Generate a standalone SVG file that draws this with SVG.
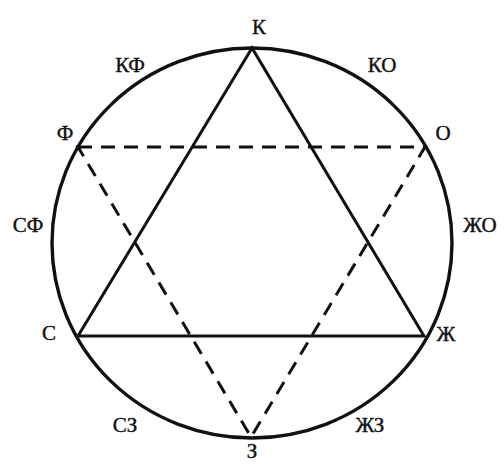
<svg xmlns="http://www.w3.org/2000/svg" width="504" height="464" viewBox="0 0 504 464">
<style>
.lbl{font-family:"Liberation Serif","DejaVu Serif",serif;font-size:21px;fill:#111;stroke:#111;stroke-width:0.4;text-anchor:middle;dominant-baseline:central}
.solid{fill:none;stroke:#111;stroke-width:3;stroke-linejoin:miter}
.dash{fill:none;stroke:#111;stroke-width:3;stroke-dasharray:14 9}
</style>
<rect width="504" height="464" fill="#fff"/>
<g id="circle"><ellipse cx="252" cy="243" rx="200" ry="195" fill="none" stroke="#111" stroke-width="3.4"/></g>
<g id="connectors">
<polygon class="solid" points="252,48 78,336 424,336"/>
<polygon class="dash" points="78,147 425,147 251,437"/>
</g>
<g id="labels">
<g id="n-K"><text class="lbl" x="259" y="27">К</text></g>
<g id="n-KF"><text class="lbl" x="130" y="65">КФ</text></g>
<g id="n-KO"><text class="lbl" x="382" y="65">КО</text></g>
<g id="n-F"><text class="lbl" x="65" y="133">Ф</text></g>
<g id="n-O"><text class="lbl" x="443" y="133">О</text></g>
<g id="n-SF"><text class="lbl" x="28" y="225">СФ</text></g>
<g id="n-ZhO"><text class="lbl" x="480" y="225">ЖО</text></g>
<g id="n-S"><text class="lbl" x="49" y="333">С</text></g>
<g id="n-Zh"><text class="lbl" x="446" y="334">Ж</text></g>
<g id="n-SZ"><text class="lbl" x="125" y="425">СЗ</text></g>
<g id="n-ZhZ"><text class="lbl" x="370" y="425">ЖЗ</text></g>
<g id="n-Z"><text class="lbl" x="252" y="451">З</text></g>
</g>
</svg>
